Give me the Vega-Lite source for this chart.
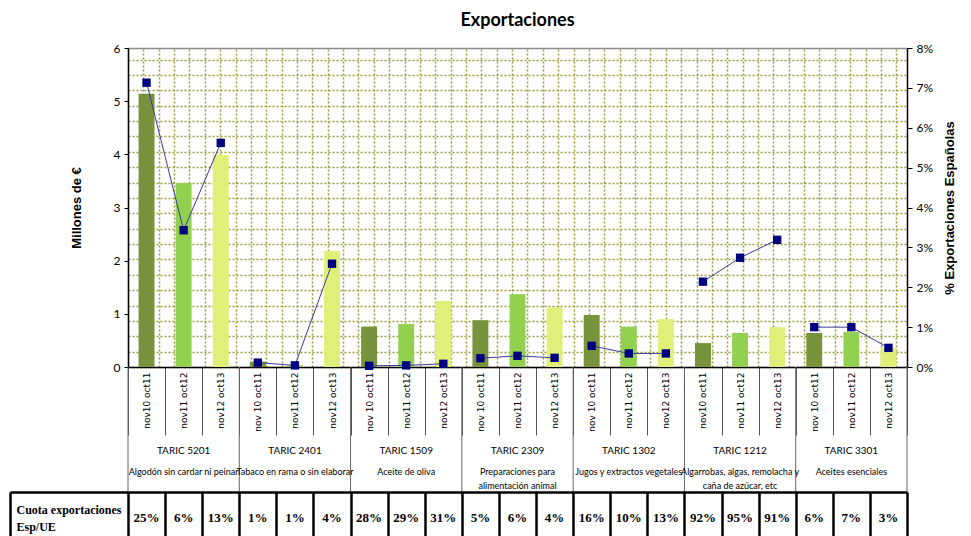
{
  "$schema": "https://vega.github.io/schema/vega-lite/v6.json",
  "padding": {"left": 8, "right": 5, "top": 12, "bottom": 0},
  "spacing": 0,
  "bounds": "flush",
  "config": {"view": {"stroke": null}, "axis": {"labelFont": "Lato", "labelColor": "#000", "titleColor": "#000"}},
  "datasets": {
    "main": [
      {"key": "5201|nov10 oct11", "taric": "5201", "period": "nov10 oct11", "value": 5.14, "pct": 0.0713, "cuota": "25%"},
      {"key": "5201|nov11 oct12", "taric": "5201", "period": "nov11 oct12", "value": 3.46, "pct": 0.0343, "cuota": "6%"},
      {"key": "5201|nov12 oct13", "taric": "5201", "period": "nov12 oct13", "value": 3.99, "pct": 0.0562, "cuota": "13%"},
      {"key": "2401|nov 10 oct11", "taric": "2401", "period": "nov10 oct11", "value": 0.1, "pct": 0.0011, "cuota": "1%"},
      {"key": "2401|nov11 oct12", "taric": "2401", "period": "nov11 oct12", "value": 0.03, "pct": 0.0004, "cuota": "1%"},
      {"key": "2401|nov12 oct13", "taric": "2401", "period": "nov12 oct13", "value": 2.18, "pct": 0.0259, "cuota": "4%"},
      {"key": "1509|nov 10 oct11", "taric": "1509", "period": "nov10 oct11", "value": 0.76, "pct": 0.0003, "cuota": "28%"},
      {"key": "1509|nov11 oct12", "taric": "1509", "period": "nov11 oct12", "value": 0.81, "pct": 0.0004, "cuota": "29%"},
      {"key": "1509|nov12 oct13", "taric": "1509", "period": "nov12 oct13", "value": 1.24, "pct": 0.0008, "cuota": "31%"},
      {"key": "2309|nov 10 oct11", "taric": "2309", "period": "nov10 oct11", "value": 0.88, "pct": 0.0022, "cuota": "5%"},
      {"key": "2309|nov11 oct12", "taric": "2309", "period": "nov11 oct12", "value": 1.37, "pct": 0.0028, "cuota": "6%"},
      {"key": "2309|nov12 oct13", "taric": "2309", "period": "nov12 oct13", "value": 1.12, "pct": 0.0023, "cuota": "4%"},
      {"key": "1302|nov 10 oct11", "taric": "1302", "period": "nov10 oct11", "value": 0.98, "pct": 0.0053, "cuota": "16%"},
      {"key": "1302|nov11 oct12", "taric": "1302", "period": "nov11 oct12", "value": 0.76, "pct": 0.0034, "cuota": "10%"},
      {"key": "1302|nov12 oct13", "taric": "1302", "period": "nov12 oct13", "value": 0.9, "pct": 0.0034, "cuota": "13%"},
      {"key": "1212|nov10 oct11", "taric": "1212", "period": "nov10 oct11", "value": 0.45, "pct": 0.0214, "cuota": "92%"},
      {"key": "1212|nov11 oct12", "taric": "1212", "period": "nov11 oct12", "value": 0.64, "pct": 0.0274, "cuota": "95%"},
      {"key": "1212|nov12 oct13", "taric": "1212", "period": "nov12 oct13", "value": 0.75, "pct": 0.0319, "cuota": "91%"},
      {"key": "3301|nov 10 oct11", "taric": "3301", "period": "nov10 oct11", "value": 0.64, "pct": 0.01, "cuota": "6%"},
      {"key": "3301|nov11 oct12", "taric": "3301", "period": "nov11 oct12", "value": 0.66, "pct": 0.01, "cuota": "7%"},
      {"key": "3301|nov12 oct13", "taric": "3301", "period": "nov12 oct13", "value": 0.36, "pct": 0.0048, "cuota": "3%"}
    ],
    "groups": [
      {"code": "TARIC  5201", "desc": "Algodón sin cardar ni peinar", "first": "5201|nov10 oct11", "mid": "5201|nov11 oct12", "last": null},
      {"code": "TARIC 2401", "desc": "Tabaco en rama o sin elaborar", "first": "2401|nov 10 oct11", "mid": "2401|nov11 oct12", "last": null},
      {"code": "TARIC 1509", "desc": "Aceite de oliva", "first": "1509|nov 10 oct11", "mid": "1509|nov11 oct12", "last": null},
      {"code": "TARIC 2309", "desc": "Preparaciones para\nalimentación animal", "first": "2309|nov 10 oct11", "mid": "2309|nov11 oct12", "last": null},
      {"code": "TARIC 1302", "desc": "Jugos y extractos vegetales", "first": "1302|nov 10 oct11", "mid": "1302|nov11 oct12", "last": null},
      {"code": "TARIC 1212", "desc": "Algarrobas, algas, remolacha y\ncaña de azúcar, etc", "first": "1212|nov10 oct11", "mid": "1212|nov11 oct12", "last": null},
      {"code": "TARIC 3301", "desc": "Aceites esenciales", "first": "3301|nov 10 oct11", "mid": "3301|nov11 oct12", "last": "3301|nov12 oct13"}
    ]
  },
  "vconcat": [
    {
      "width": 779,
      "height": 319,
      "title": {"text": "Exportaciones", "font": "Lato", "fontSize": 18, "fontWeight": "bold", "anchor": "middle", "frame": "group", "offset": 12, "color": "#000"},
      "layer": [
        {
          "data": {"values": [{"gx": 0, "gy": 0}]},
          "mark": {"type": "point", "opacity": 0},
          "encoding": {
            "x": {"field": "gx", "type": "quantitative", "scale": {"domain": [0, 50.7], "nice": false, "zero": false},
              "axis": {"orient": "top", "title": null, "labels": false, "ticks": false, "domain": true, "domainColor": "#8c8c8c", "domainWidth": 1.5, "grid": true, "gridColor": "#9b9b3b", "gridDash": [2, 2], "gridWidth": 1.5,
                "values": [0,1,2,3,4,5,6,7,8,9,10,11,12,13,14,15,16,17,18,19,20,21,22,23,24,25,26,27,28,29,30,31,32,33,34,35,36,37,38,39,40,41,42,43,44,45,46,47,48,49,50]}},
            "y": {"field": "gy", "type": "quantitative", "scale": {"domain": [0, 20.75], "nice": false, "zero": false},
              "axis": {"orient": "left", "title": null, "labels": false, "ticks": false, "domain": false, "grid": true, "gridColor": "#9b9b3b", "gridDash": [2, 2], "gridWidth": 1.5,
                "values": [0,1,2,3,4,5,6,7,8,9,10,11,12,13,14,15,16,17,18,19,20]}}
          }
        },
        {
          "data": {"name": "main"},
          "mark": {"type": "bar", "width": {"band": 0.43}},
          "encoding": {
            "x": {"field": "key", "type": "nominal",
              "scale": {"domain": ["5201|nov10 oct11","5201|nov11 oct12","5201|nov12 oct13","2401|nov 10 oct11","2401|nov11 oct12","2401|nov12 oct13","1509|nov 10 oct11","1509|nov11 oct12","1509|nov12 oct13","2309|nov 10 oct11","2309|nov11 oct12","2309|nov12 oct13","1302|nov 10 oct11","1302|nov11 oct12","1302|nov12 oct13","1212|nov10 oct11","1212|nov11 oct12","1212|nov12 oct13","3301|nov 10 oct11","3301|nov11 oct12","3301|nov12 oct13"], "paddingInner": 0, "paddingOuter": 0},
              "axis": {"orient": "bottom", "title": null, "labelExpr": "split(datum.label, '|')[1]", "labelAngle": -90, "labelFont": "DejaVu Sans", "labelFontSize": 9, "labelPadding": -63, "tickBand": "extent", "tickSize": 68, "tickColor": "#555", "tickWidth": 1, "domainColor": "#000", "domainWidth": 1.5, "grid": false}},
            "y": {"field": "value", "type": "quantitative", "scale": {"domain": [0, 6], "nice": false},
              "axis": {"orient": "left", "title": "Millones de €", "titleFont": "Liberation Sans", "titleFontSize": 13, "titleFontWeight": "bold", "titlePadding": 30, "values": [0,1,2,3,4,5,6], "labelFontSize": 12, "tickSize": 4, "labelPadding": 4, "tickColor": "#000", "domainColor": "#000", "domainWidth": 1.5, "grid": false}},
            "color": {"field": "period", "type": "nominal", "scale": {"domain": ["nov10 oct11", "nov11 oct12", "nov12 oct13"], "range": ["#77933c", "#92d050", "#dfef78"]}, "legend": null}
          }
        },
        {
          "data": {"name": "main"},
          "encoding": {
            "x": {"field": "key", "type": "nominal",
              "scale": {"domain": ["5201|nov10 oct11","5201|nov11 oct12","5201|nov12 oct13","2401|nov 10 oct11","2401|nov11 oct12","2401|nov12 oct13","1509|nov 10 oct11","1509|nov11 oct12","1509|nov12 oct13","2309|nov 10 oct11","2309|nov11 oct12","2309|nov12 oct13","1302|nov 10 oct11","1302|nov11 oct12","1302|nov12 oct13","1212|nov10 oct11","1212|nov11 oct12","1212|nov12 oct13","3301|nov 10 oct11","3301|nov11 oct12","3301|nov12 oct13"], "paddingInner": 0, "paddingOuter": 0},
              "axis": null},
            "y": {"field": "pct", "type": "quantitative", "scale": {"domain": [0, 0.08], "nice": false},
              "axis": {"orient": "right", "title": "% Exportaciones Españolas", "titleFont": "Liberation Sans", "titleFontSize": 13, "titleFontWeight": "bold", "titleAngle": 270, "titlePadding": 24, "format": ".0%", "values": [0,0.01,0.02,0.03,0.04,0.05,0.06,0.07,0.08], "labelFontSize": 12, "tickSize": 5, "labelPadding": 4, "tickColor": "#000", "domainColor": "#000", "domainWidth": 1.5, "grid": false}},
            "detail": {"field": "taric", "type": "nominal"}
          },
          "layer": [
            {"mark": {"type": "line", "color": "#3a3a9e", "strokeWidth": 1}},
            {"mark": {"type": "point", "shape": "square", "filled": true, "opacity": 1, "size": 70, "color": "#000080"}}
          ]
        }
      ],
      "resolve": {"scale": {"x": "independent", "y": "independent"}, "axis": {"x": "independent", "y": "independent"}}
    },
    {
      "width": 779,
      "height": 125,
      "data": {"name": "groups"},
      "layer": [
        {
          "mark": {"type": "rule", "color": "#666", "strokeWidth": 1},
          "encoding": {
            "x": {"field": "first", "type": "nominal", "bandPosition": 0,
              "scale": {"domain": ["5201|nov10 oct11","5201|nov11 oct12","5201|nov12 oct13","2401|nov 10 oct11","2401|nov11 oct12","2401|nov12 oct13","1509|nov 10 oct11","1509|nov11 oct12","1509|nov12 oct13","2309|nov 10 oct11","2309|nov11 oct12","2309|nov12 oct13","1302|nov 10 oct11","1302|nov11 oct12","1302|nov12 oct13","1212|nov10 oct11","1212|nov11 oct12","1212|nov12 oct13","3301|nov 10 oct11","3301|nov11 oct12","3301|nov12 oct13"], "paddingInner": 0, "paddingOuter": 0},
              "axis": null}
          }
        },
        {
          "transform": [{"filter": "isValid(datum.last)"}],
          "mark": {"type": "rule", "color": "#666", "strokeWidth": 1},
          "encoding": {
            "x": {"field": "last", "type": "nominal", "bandPosition": 1, "axis": null}
          }
        },
        {
          "mark": {"type": "text", "font": "Lato", "fontSize": 10, "color": "#000", "baseline": "middle", "dy": 21},
          "encoding": {
            "x": {"field": "mid", "type": "nominal", "axis": null},
            "text": {"field": "code"}
          }
        },
        {
          "mark": {"type": "text", "font": "Lato", "fontSize": 9, "color": "#000", "baseline": "top", "dy": 38, "lineBreak": "\n", "lineHeight": 14},
          "encoding": {
            "x": {"field": "mid", "type": "nominal", "axis": null},
            "text": {"field": "desc"}
          }
        }
      ]
    },
    {
      "width": 779,
      "height": 52,
      "data": {"name": "main"},
      "mark": {"type": "text", "font": "Liberation Serif", "fontWeight": "bold", "fontSize": 13, "color": "#000"},
      "encoding": {
        "x": {"field": "key", "type": "nominal",
          "scale": {"domain": ["5201|nov10 oct11","5201|nov11 oct12","5201|nov12 oct13","2401|nov 10 oct11","2401|nov11 oct12","2401|nov12 oct13","1509|nov 10 oct11","1509|nov11 oct12","1509|nov12 oct13","2309|nov 10 oct11","2309|nov11 oct12","2309|nov12 oct13","1302|nov 10 oct11","1302|nov11 oct12","1302|nov12 oct13","1212|nov10 oct11","1212|nov11 oct12","1212|nov12 oct13","3301|nov 10 oct11","3301|nov11 oct12","3301|nov12 oct13"], "paddingInner": 0, "paddingOuter": 0},
          "axis": {"orient": "top", "title": null, "labels": false, "ticks": false, "domain": true, "domainColor": "#000", "domainWidth": 2.5, "grid": true, "tickBand": "extent", "gridColor": "#000", "gridWidth": 2.5}},
        "y": {"datum": "Cuota exportaciones|Esp/UE", "type": "nominal", "scale": {"paddingInner": 0, "paddingOuter": 0},
          "axis": {"orient": "left", "title": null, "offset": 118, "tickBand": "extent", "tickSize": -118, "tickWidth": 2.5, "tickColor": "#000", "domain": true, "domainColor": "#000", "domainWidth": 2.5, "labelExpr": "split(datum.label, '|')", "labelAlign": "left", "labelBaseline": "alphabetic", "labelOffset": -5, "labelPadding": 112, "labelFont": "Liberation Serif", "labelFontWeight": "bold", "labelFontSize": 12, "labelLineHeight": 17, "grid": false}},
        "text": {"field": "cuota"}
      }
    }
  ]
}
